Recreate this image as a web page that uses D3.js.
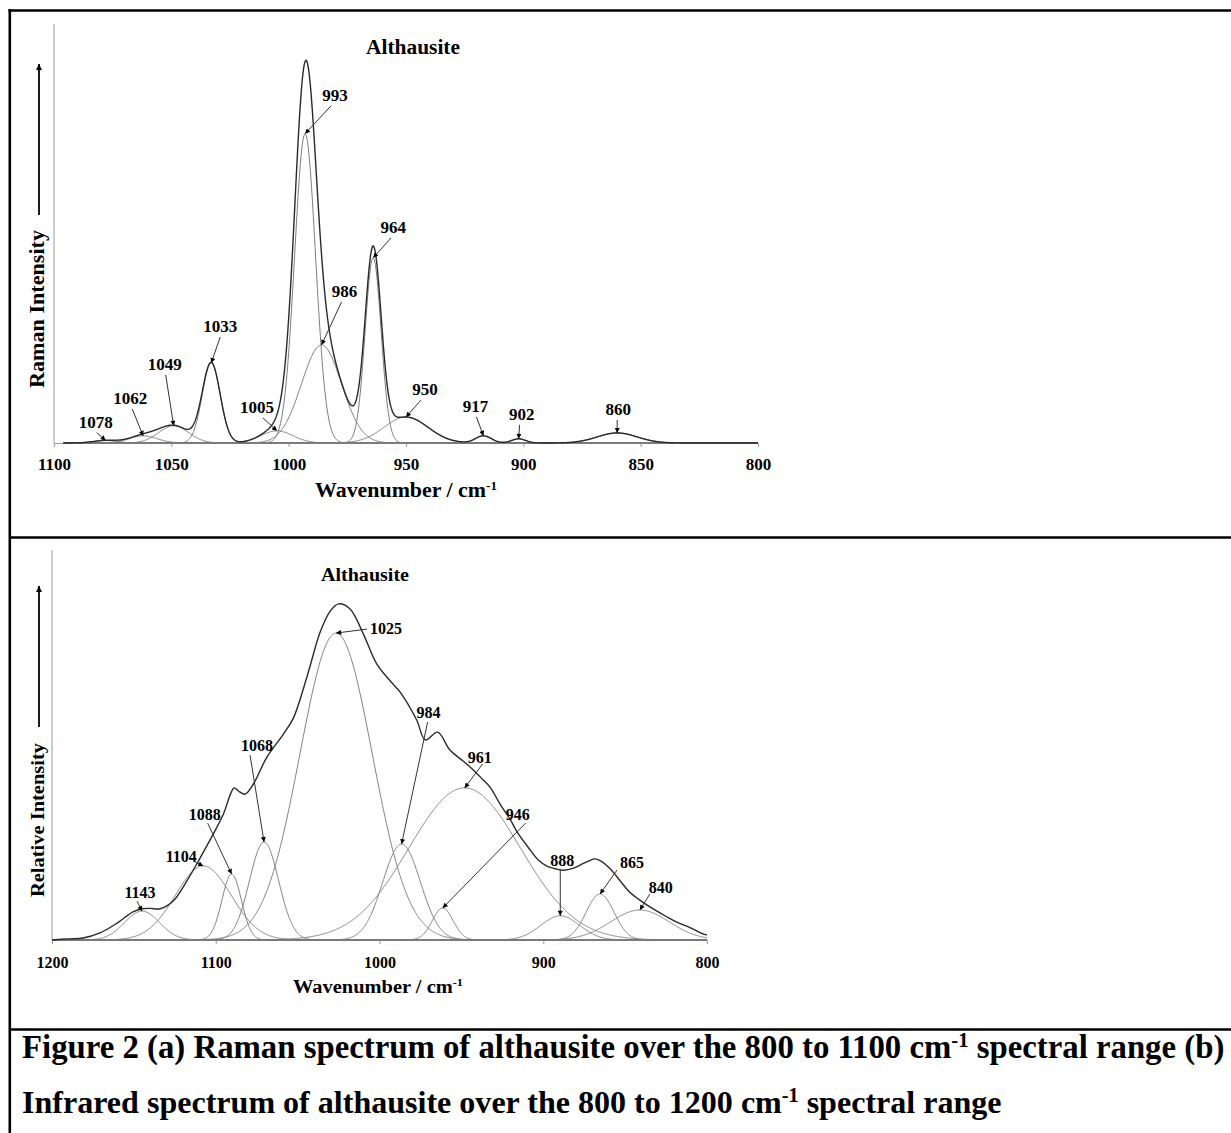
<!DOCTYPE html>
<html>
<head>
<meta charset="utf-8">
<script src="https://cdn.jsdelivr.net/npm/d3@7"></script>
<style>
    body { margin: 0; background: #fff; }
    svg text { font-family: "Liberation Serif", "Times New Roman", serif; font-weight: bold; fill: #000; }
</style>
</head>
<body>
<div id="figure"></div>
<script>

// ---- (a) Raman: fitted bands (centre cm-1, height a.u., FWHM cm-1)
const ramanBandCentres = [1078, 1062, 1049, 1033, 1005, 993, 986, 964, 950, 917, 902, 860];
const ramanBandHeights = [0.6, 1.7, 4.1, 19.1, 2.9, 73.8, 23.4, 44.2, 6.2, 1.7, 1.0, 2.4];
const ramanBandWidths  = [12, 14, 15, 9, 16, 10.5, 20, 8, 22, 8, 7, 20];
const ramanBandLabels  = ["1078", "1062", "1049", "1033", "1005", "993", "986", "964", "950", "917", "902", "860"];
const ramanTicks = [1100, 1050, 1000, 950, 900, 850, 800];

// ---- (b) Infrared: fitted bands
const irBandCentres = [1145, 1107.6, 1090.3, 1070.5, 1026.5, 986.5, 961.4, 948, 889.6, 865.3, 841];
const irBandHeights = [7.4, 19.0, 16.9, 25.1, 78.7, 24.6, 8.2, 39.0, 6.2, 11.8, 7.7];
const irBandWidths  = [25, 40, 14, 21, 52, 27, 15, 80, 28, 20, 42];
const irBandLabels  = ["1143", "1104", "1088", "1068", "1025", "984", "946", "961", "888", "865", "840"];
const irTicks = [1200, 1100, 1000, 900, 800];

// measured infrared spectrum (wavenumber, relative intensity)
const irSpectrumWavenumbers = [1200, 1190, 1181, 1170.7, 1160, 1150.5, 1145, 1140, 1134, 1126, 1117.7, 1109.6,
    1101.5, 1095.3, 1091, 1088.8, 1085.5, 1082, 1077, 1069, 1058.7, 1052.6, 1044.5, 1036, 1030, 1025, 1018,
    1009.9, 1001.7, 993, 987.5, 977.3, 972, 964.5, 957, 949, 944, 936.6, 932.5, 926, 920, 916, 908, 903, 898,
    892, 887.7, 881, 877.5, 872, 868.5, 865, 859, 851, 846.8, 838.6, 832.6, 824.4, 818.5, 810, 802, 800];
const irSpectrumIntensities = [0, 0.3, 0.5, 1.8, 4.4, 7.2, 8.0, 8.1, 8.0, 10.0, 15.1, 21.0,
    27.2, 32.3, 37.4, 39.0, 38.0, 37.4, 40.0, 46.7, 52.8, 56.9, 67.2, 79.2, 84.4, 86.2, 84.9,
    78.5, 70.8, 66.2, 63.6, 56.4, 51.3, 53.3, 48.7, 45.9, 44.1, 41.0, 39.2, 34.6, 30.8, 27.7, 23.1, 20.5, 19.0,
    18.2, 17.9, 18.5, 19.2, 20.3, 20.8, 20.3, 18.2, 14.1, 12.1, 9.5, 7.9, 5.9, 4.6, 3.1, 1.5, 1.3];

// label placement (px offsets from the band peak): text dx, dy / arrow start dx, dy
const ramanLabelOffsets = [[-10, -12], [-13, -32], [-9, -56], [9, -31], [-20, -18], [30, -33],
    [23, -48], [20, -25], [19, -22], [-8, -24], [3, -19], [1, -18]];
const ramanArrowOffsets = [[-9, -8], [-11, -27], [-8, -51], [9, -26], [-14, -13], [26, -28],
    [20, -43], [18, -20], [15, -17], [-7, -19], [1, -14], [0, -13]];
const irLabelOffsets = [[-2, -13], [-22, -4], [-27, -54], [-7, -91], [50, 1], [27, -126],
    [75, -88], [15, -25], [2, -50], [32, -26], [21, -17]];
const irArrowOffsets = [[-5, -10], [-8, -4], [-24, -51], [-14, -87], [31, -4], [26, -122],
    [83, -85], [18, -24], [0, -47], [17, -24], [10, -16]];


class SpectrumVis {

    constructor(parent, opts) {
        this.parent = parent;
        this.opts = opts;
        this.initVis();
    }

    initVis() {
        let vis = this;
        let o = vis.opts;

        vis.g = vis.parent.append("g");

        // scales
        vis.x = d3.scaleLinear().domain(o.xDomain).range(o.xRange);
        vis.y = d3.scaleLinear().domain([0, 100]).range(o.yRange);

        // y axis (plain line, no ticks)
        vis.g.append("line")
            .attr("x1", vis.x(o.xDomain[0])).attr("x2", vis.x(o.xDomain[0]))
            .attr("y1", vis.y(0)).attr("y2", vis.y(100))
            .attr("stroke", "#9a9a9a")
            .attr("stroke-width", 1);

        // x axis
        vis.xAxis = d3.axisBottom(vis.x)
            .tickValues(o.ticks)
            .tickSize(4)
            .tickSizeOuter(0)
            .tickFormat(d3.format("d"));

        vis.axisG = vis.g.append("g")
            .attr("transform", `translate(0,${vis.y(0)})`)
            .call(vis.xAxis);
        vis.axisG.select(".domain").attr("stroke", "#9a9a9a");
        vis.axisG.selectAll(".tick line").attr("stroke", "#9a9a9a");
        vis.axisG.selectAll(".tick text")
            .attr("y", o.tickTextY)
            .attr("dy", null)
            .style("font-size", o.tickFont + "px");

        vis.wrangleData();
    }

    wrangleData() {
        let vis = this;
        let o = vis.opts;

        // wavenumber grid
        vis.grid = d3.range(o.curveFrom, o.curveTo - 0.001, -0.25);

        // gaussian component bands
        vis.bands = o.centres.map((c, i) => {
            let h = o.heights[i], w = o.widths[i];
            return {
                centre: c,
                height: h,
                label: o.labels[i],
                points: vis.grid.map(v => [v, h * Math.exp(-4 * Math.LN2 * Math.pow((v - c) / w, 2))])
            };
        });

        // envelope: measured trace if given, otherwise sum of bands
        if (o.spectrumX) {
            vis.envelope = o.spectrumX.map((v, i) => [v, o.spectrumY[i]]);
        } else {
            vis.envelope = vis.grid.map((v, k) => [v, d3.sum(vis.bands, b => b.points[k][1])]);
        }

        vis.updateVis();
    }

    updateVis() {
        let vis = this;
        let o = vis.opts;

        let line = d3.line()
            .x(d => vis.x(d[0]))
            .y(d => vis.y(d[1]));

        // components
        vis.g.append("g")
            .selectAll(".band")
            .data(vis.bands)
            .enter()
            .append("path")
            .attr("class", "band")
            .attr("d", d => line(d.points))
            .attr("fill", "none")
            .attr("stroke", "#7d7d7d")
            .attr("stroke-width", 1);

        // envelope
        vis.g.append("path")
            .datum(vis.envelope)
            .attr("d", o.spectrumX ? line.curve(d3.curveCatmullRom.alpha(0.5)) : line)
            .attr("fill", "none")
            .attr("stroke", "#2a2a2a")
            .attr("stroke-width", 1.4);

        // peak labels with arrows
        let ann = vis.g.append("g");
        vis.bands.forEach((b, i) => {
            let px = vis.x(b.centre), py = vis.y(b.height);
            let t = o.labelOffsets[i], a = o.arrowOffsets[i];
            ann.append("line")
                .attr("x1", px + a[0]).attr("y1", py + a[1])
                .attr("x2", px).attr("y2", py)
                .attr("stroke", "#333")
                .attr("stroke-width", 1)
                .attr("marker-end", "url(#head)");
            ann.append("text")
                .attr("x", px + t[0]).attr("y", py + t[1])
                .attr("text-anchor", "middle")
                .style("font-size", o.labelFont + "px")
                .text(b.label);
        });

        // title
        vis.g.append("text")
            .attr("x", o.title.x).attr("y", o.title.y)
            .attr("text-anchor", "middle")
            .attr("textLength", o.title.len)
            .attr("lengthAdjust", "spacingAndGlyphs")
            .style("font-size", o.title.size + "px")
            .text("Althausite");

        // y label + arrow
        vis.g.append("text")
            .attr("transform", `translate(${o.yLabel.x},${o.yLabel.y}) rotate(-90)`)
            .attr("text-anchor", "middle")
            .attr("textLength", o.yLabel.len)
            .attr("lengthAdjust", "spacingAndGlyphs")
            .style("font-size", o.yLabel.size + "px")
            .text(o.yLabel.text);

        vis.g.append("line")
            .attr("x1", o.yArrow.x).attr("x2", o.yArrow.x)
            .attr("y1", o.yArrow.y1).attr("y2", o.yArrow.y2)
            .attr("stroke", "#000")
            .attr("stroke-width", 1.8)
            .attr("marker-end", "url(#bighead)");

        // x title
        let xt = vis.g.append("text")
            .attr("x", o.xTitle.x).attr("y", o.xTitle.y)
            .attr("textLength", o.xTitle.len)
            .attr("lengthAdjust", "spacingAndGlyphs")
            .style("font-size", o.xTitle.size + "px");
        xt.append("tspan").text("Wavenumber / cm");
        xt.append("tspan").attr("dy", -7).style("font-size", (o.xTitle.size * 0.6) + "px").text("-1");
    }
}


// ---- page
let svg = d3.select("#figure").append("svg")
    .attr("width", 1231)
    .attr("height", 1133);

svg.append("rect").attr("width", 1231).attr("height", 1133).attr("fill", "#fff");

let defs = svg.append("defs");
defs.append("marker")
    .attr("id", "head")
    .attr("viewBox", "0 0 10 10")
    .attr("refX", 10).attr("refY", 5)
    .attr("markerWidth", 6).attr("markerHeight", 5)
    .attr("markerUnits", "userSpaceOnUse")
    .attr("orient", "auto")
    .append("path").attr("d", "M0,0L10,5L0,10z").attr("fill", "#000");
defs.append("marker")
    .attr("id", "bighead")
    .attr("viewBox", "0 0 10 10")
    .attr("refX", 10).attr("refY", 5)
    .attr("markerWidth", 8).attr("markerHeight", 6)
    .attr("markerUnits", "userSpaceOnUse")
    .attr("orient", "auto")
    .append("path").attr("d", "M0,0L10,5L0,10z").attr("fill", "#000");

// table frame
let frame = svg.append("g").attr("stroke", "#000").attr("stroke-width", 2.6);
frame.append("line").attr("x1", 8.5).attr("y1", 10.5).attr("x2", 1231).attr("y2", 10.5);
frame.append("line").attr("x1", 9.8).attr("y1", 9).attr("x2", 9.8).attr("y2", 1133);
frame.append("line").attr("x1", 9).attr("y1", 537.5).attr("x2", 1231).attr("y2", 537.5);
frame.append("line").attr("x1", 9).attr("y1", 1029.5).attr("x2", 1231).attr("y2", 1029.5);

// (a) Raman
let ramanVis = new SpectrumVis(svg, {
    xDomain: [1100, 800], xRange: [54, 758], yRange: [443, 24],
    ticks: ramanTicks, tickTextY: 27, tickFont: 17,
    curveFrom: 1096, curveTo: 800,
    centres: ramanBandCentres, heights: ramanBandHeights, widths: ramanBandWidths, labels: ramanBandLabels,
    labelOffsets: ramanLabelOffsets, arrowOffsets: ramanArrowOffsets, labelFont: 17,
    title: {x: 413, y: 54, len: 94, size: 20},
    yLabel: {x: 44, y: 309, len: 158, size: 20, text: "Raman Intensity"},
    yArrow: {x: 39, y1: 215, y2: 64},
    xTitle: {x: 315, y: 497, len: 182, size: 20}
});

// (b) Infrared
let irVis = new SpectrumVis(svg, {
    xDomain: [1200, 800], xRange: [52, 707], yRange: [940, 550],
    ticks: irTicks, tickTextY: 28, tickFont: 16,
    curveFrom: 1200, curveTo: 800,
    centres: irBandCentres, heights: irBandHeights, widths: irBandWidths, labels: irBandLabels,
    spectrumX: irSpectrumWavenumbers, spectrumY: irSpectrumIntensities,
    labelOffsets: irLabelOffsets, arrowOffsets: irArrowOffsets, labelFont: 16,
    title: {x: 365, y: 581, len: 88, size: 19},
    yLabel: {x: 44, y: 820, len: 154, size: 19, text: "Relative Intensity"},
    yArrow: {x: 39, y1: 727, y2: 586},
    xTitle: {x: 293, y: 993, len: 170, size: 18}
});

// caption: font size chosen so each line spans its measured width
function captionLine(y, main, tail, targetWidth) {
    let t = svg.append("text").attr("x", 22).attr("y", y).style("font-size", "27px");
    t.append("tspan").text(main);
    let sup = t.append("tspan").attr("dy", -11).style("font-size", "17px").text("-1");
    let rest = t.append("tspan").attr("dy", 11).text(tail);
    let k = targetWidth / t.node().getComputedTextLength();
    t.style("font-size", (27 * k) + "px");
    sup.style("font-size", (17 * k) + "px");
}
captionLine(1058, "Figure 2 (a) Raman spectrum of althausite over the 800 to 1100 cm", " spectral range (b)", 1203);
captionLine(1113, "Infrared spectrum of althausite over the 800 to 1200 cm", " spectral range", 980);

</script>
</body>
</html>
